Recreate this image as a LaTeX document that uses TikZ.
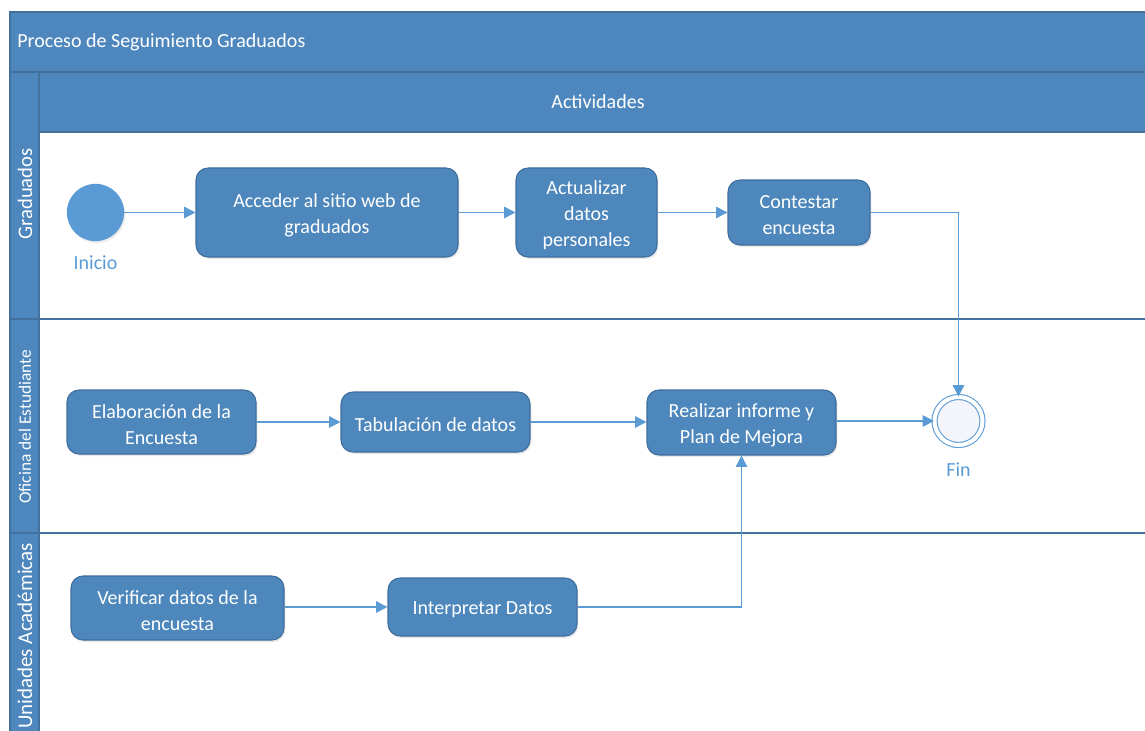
\documentclass[tikz,border=0pt]{standalone}
\usepackage{fontspec}
\setmainfont{Carlito}
\usetikzlibrary{arrows.meta,shadows}

\definecolor{poolblue}{HTML}{4E87BD}
\definecolor{poolline}{HTML}{41719C}
\definecolor{actfill}{HTML}{4D87BC}
\definecolor{actline}{HTML}{3F6E9C}
\definecolor{flow}{HTML}{5B9BD5}
\definecolor{endfill}{HTML}{F4F5FA}

\tikzset{
  bar/.style={fill=poolblue, draw=poolline, line width=1pt},
  lanesep/.style={draw=poolline, line width=1.1pt},
  hdrtext/.style={text=white, font=\fontsize{15}{18}\selectfont, inner sep=0pt},
  lanetext/.style={text=white, inner sep=0pt, rotate=90},
  acttext/.style={text=white, align=center, inner sep=0pt, yshift=-2pt,
    font=\fontsize{15}{19.5}\selectfont},
  activity/.style={draw=actline, fill=actfill, line width=0.8pt, rounded corners=9pt,
    inner sep=0pt, label={[acttext]center:{#1}},
    drop shadow={opacity=0.18, shadow xshift=1pt, shadow yshift=-1.5pt}},
  startev/.style={circle, fill=flow, minimum size=43pt, inner sep=0pt,
    drop shadow={opacity=0.15, shadow xshift=1pt, shadow yshift=-1.5pt}},
  endev/.style={circle, draw=flow, fill=endfill, line width=0.8pt, double=white,
    double distance=3pt, minimum size=36pt, inner sep=0pt},
  evlabel/.style={text=flow, font=\fontsize{15}{18}\selectfont, inner sep=0pt},
  flowline/.style={draw=flow, line width=1.2pt, -{Triangle[length=8.5pt,width=8.5pt]}}
}

\begin{document}
\begin{tikzpicture}[x=0.75pt, y=-0.75pt]
\useasboundingbox (0,0) rectangle (1145,731);
\clip (0,0) rectangle (1145,731);

% pool frame, title bar and activity header
\fill[white] (10,12) rectangle (1150,740);
\path[bar] (10,12) rectangle (1150,72);
\path[bar] (39,72) rectangle (1150,132);
\path[bar] (10,72) rectangle (39,740);
\node[hdrtext, anchor=west] (title) at (17,42) {Proceso de Seguimiento Graduados};
\node[hdrtext] (colhdr) at (598,102) {Actividades};

% lane separators
\draw[lanesep] (10,319) -- (1150,319);
\draw[lanesep] (10,533) -- (1150,533);
\draw[poolline, line width=1pt] (39,132) -- (39,740);

% lane names
\node[lanetext, font=\fontsize{15.5}{18}\selectfont] (lane1) at (25,194) {Graduados};
\node[lanetext, font=\fontsize{13}{16}\selectfont] (lane2) at (25,427) {Oficina del Estudiante};
\node[lanetext, font=\fontsize{15.75}{18}\selectfont] (lane3) at (25,636) {Unidades Académicas};

% Graduados
\node[startev] (inicio) at (95.5,212.5) {};
\node[evlabel] (inicioLbl) at (95.5,263) {Inicio};
\node[activity={Acceder al sitio web de\\graduados},
  minimum width=196.5pt, minimum height=66.75pt] (acceder) at (327,212.5) {};
\node[activity={Actualizar\\datos\\personales},
  minimum width=105.75pt, minimum height=66.75pt] (actualizar) at (586.5,212.5) {};
\node[activity={Contestar\\encuesta},
  minimum width=106.5pt, minimum height=48.75pt] (contestar) at (799,212.5) {};

% Oficina del Estudiante
\node[activity={Elaboración de la\\Encuesta},
  minimum width=141.75pt, minimum height=48pt] (elabora) at (161.5,422) {};
\node[activity={Tabulación de datos},
  minimum width=141.75pt, minimum height=45pt] (tabula) at (435.5,422) {};
\node[activity={Realizar informe y\\Plan de Mejora},
  minimum width=141.75pt, minimum height=48.75pt] (informe) at (741.5,422.5) {};
\node[endev] (fin) at (958.5,421) {};
\node[evlabel] (finLbl) at (958.5,470) {Fin};

% Unidades Académicas
\node[activity={Verificar datos de la\\encuesta},
  minimum width=159.75pt, minimum height=48pt] (verifica) at (177.5,608) {};
\node[activity={Interpretar Datos},
  minimum width=141.75pt, minimum height=43.5pt] (interpreta) at (482.5,607) {};

% sequence flows
\draw[flowline] (inicio) -- (acceder);
\draw[flowline] (acceder.east |- inicio) -- (actualizar.west |- inicio);
\draw[flowline] (actualizar) -- (contestar);
\draw[flowline] (contestar.east) -| (fin.north);
\draw[flowline] (elabora) -- (tabula);
\draw[flowline] (tabula.east) -- (informe.west |- tabula.east);
\draw[flowline] (informe.east |- fin) -- (fin.west);
\draw[flowline] (verifica.east |- interpreta) -- (interpreta.west);
\draw[flowline] (interpreta.east) -| (informe.south);
\end{tikzpicture}
\end{document}
